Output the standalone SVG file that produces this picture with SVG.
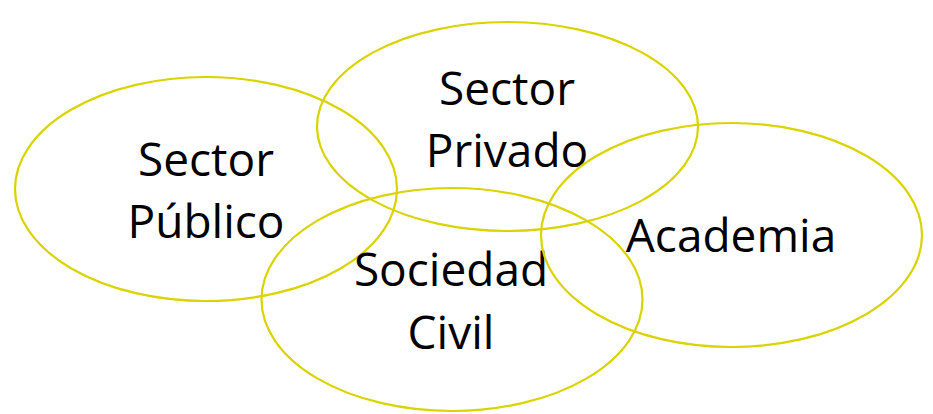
<svg xmlns="http://www.w3.org/2000/svg" width="933" height="414" viewBox="0 0 933 414">
<style>
.e{fill:none;stroke:#d9d300;stroke-width:2.2}
.t{font-family:"Open Sans","Noto Sans",sans-serif;font-size:46px;fill:#000;text-anchor:middle}
</style>
<rect width="933" height="414" fill="#fff"/>
<g id="publico"><ellipse class="e" cx="206" cy="189" rx="191" ry="112"/><text class="t" x="206" y="176">Sector</text><text class="t" x="206" y="238">Público</text></g>
<g id="privado"><ellipse class="e" cx="507.5" cy="126.5" rx="190.5" ry="104.5"/><text class="t" x="507" y="105">Sector</text><text class="t" x="507" y="167">Privado</text></g>
<g id="sociedad"><ellipse class="e" cx="452" cy="299.5" rx="190.5" ry="111.5"/><text class="t" x="451" y="286">Sociedad</text><text class="t" x="451" y="349">Civil</text></g>
<g id="academia"><ellipse class="e" cx="731.5" cy="235" rx="190.5" ry="112"/><text class="t" x="731" y="252">Academia</text></g>
<g id="connectors"/>
</svg>
